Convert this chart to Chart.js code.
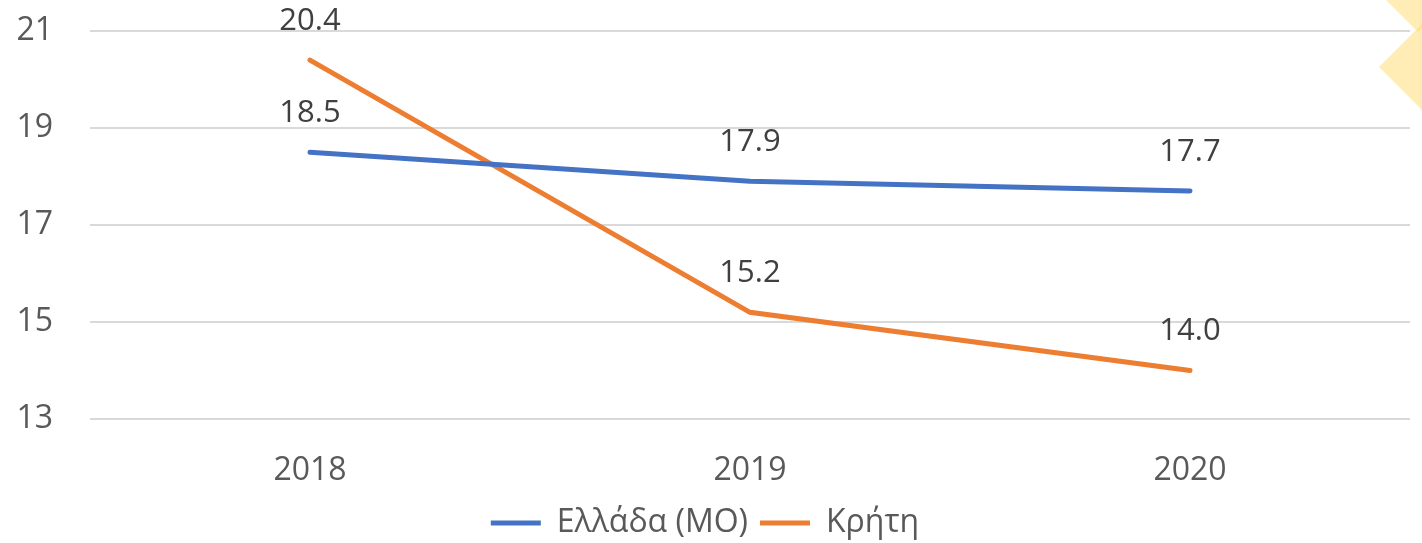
<!DOCTYPE html>
<html><head><meta charset="utf-8">
<script src="https://cdn.jsdelivr.net/npm/chart.js@4"></script>
<style>html,body{margin:0;padding:0;background:#fff;}#wrap{width:1422px;height:543px;position:relative;}</style>
</head><body><div id="wrap"><canvas id="c" width="1422" height="543"></canvas></div>
<script>
const categories = ['2018', '2019', '2020'];
const greeceValues = [18.5, 17.9, 17.7];
const creteValues = [20.4, 15.2, 14.0];
const seriesNames = ['Ελλάδα (ΜΟ)', 'Κρήτη'];
const yTicks = [13, 15, 17, 19, 21];

const FONT = "'Open Sans', 'Liberation Sans', sans-serif";

const decoPlugin = {
  id: 'deco',
  beforeDraw(chart) {
    const ctx = chart.ctx;
    ctx.save();
    ctx.fillStyle = 'rgba(255,214,90,0.45)';
    ctx.beginPath();
    ctx.moveTo(1386, 0); ctx.lineTo(1418, 32); ctx.lineTo(1450, 0); ctx.closePath(); ctx.fill();
    ctx.beginPath();
    ctx.moveTo(1379, 67); ctx.lineTo(1422, 24); ctx.lineTo(1465, 67); ctx.lineTo(1422, 110); ctx.closePath(); ctx.fill();
    ctx.restore();
  }
};

const labelPlugin = {
  id: 'vlabels',
  afterDatasetsDraw(chart) {
    const ctx = chart.ctx;
    ctx.save();
    ctx.font = "31px " + FONT;
    ctx.fillStyle = '#404040';
    ctx.textAlign = 'center';
    ctx.textBaseline = 'middle';
    chart.data.datasets.forEach((ds, i) => {
      const meta = chart.getDatasetMeta(i);
      meta.data.forEach((pt, j) => {
        ctx.fillText(ds.data[j].toFixed(1), pt.x, pt.y - 39);
      });
    });
    ctx.restore();
  }
};

new Chart(document.getElementById('c'), {
  type: 'line',
  data: {
    labels: categories,
    datasets: [
      { label: seriesNames[0], data: greeceValues, borderColor: '#4472C4', backgroundColor: '#4472C4', borderWidth: 5, pointRadius: 0, borderCapStyle: 'round', tension: 0 },
      { label: seriesNames[1], data: creteValues, borderColor: '#ED7D31', backgroundColor: '#ED7D31', borderWidth: 5, pointRadius: 0, borderCapStyle: 'round', tension: 0 }
    ]
  },
  options: {
    responsive: false,
    animation: false,
    layout: { padding: { top: 31, right: 12, left: 0, bottom: -6 } },
    scales: {
      x: {
        offset: true,
        afterFit(scale) { scale.height = 76; },
        grid: { display: false },
        border: { display: false },
        ticks: { color: '#595959', font: { size: 32, family: FONT }, padding: 25 }
      },
      y: {
        min: 13, max: 21,
        afterBuildTicks(scale) { scale.ticks = yTicks.map(v => ({ value: v })); },
        afterFit(scale) { scale.width = 90; scale.paddingTop = 0; scale.paddingBottom = 0; },
        grid: { color: '#d9d9d9', lineWidth: 2, drawTicks: false },
        border: { display: false },
        ticks: { color: '#595959', font: { size: 32, family: FONT }, padding: 37 }
      }
    },
    plugins: {
      legend: {
        position: 'bottom',
        labels: {
          usePointStyle: true, pointStyle: 'line', pointStyleWidth: 50,
          color: '#595959', font: { size: 32, family: FONT }, padding: 12, boxHeight: 5
        }
      },
      tooltip: { enabled: false }
    }
  },
  plugins: [decoPlugin, labelPlugin]
});
</script></body></html>
